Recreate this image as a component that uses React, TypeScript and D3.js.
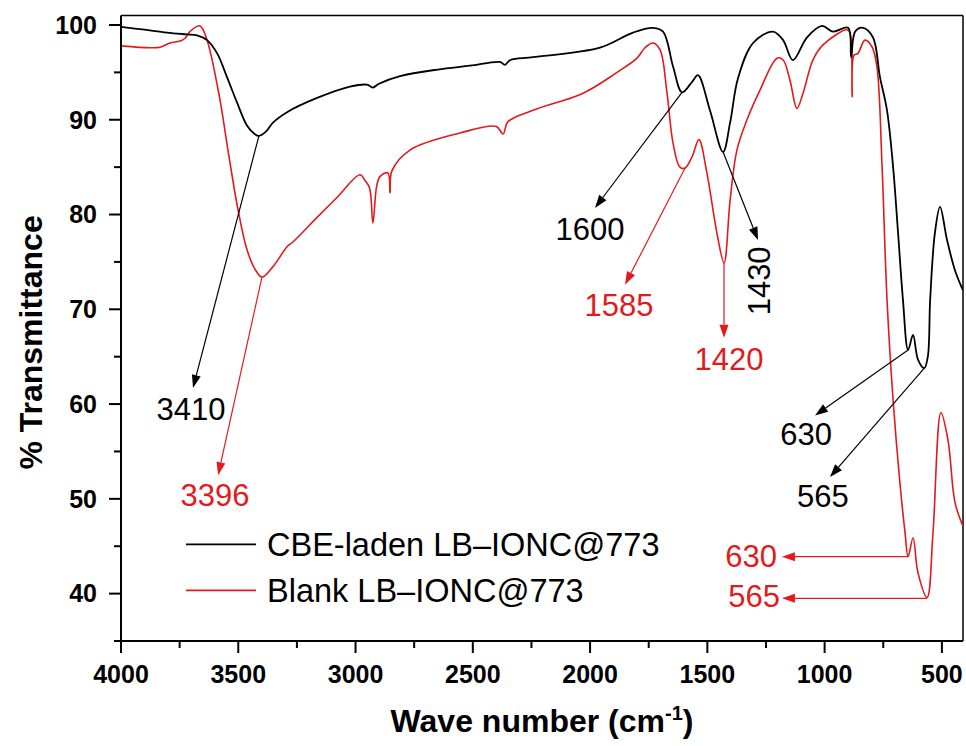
import * as d3 from 'd3';
import React from 'react';

// FTIR spectra, wavenumber (cm-1) vs % transmittance
const cbeWave = [4000, 3900, 3804, 3720, 3676, 3633, 3590, 3548, 3505, 3463, 3430, 3412, 3380, 3352, 3292, 3164, 3024, 2951, 2926, 2900, 2810, 2650, 2512, 2384, 2363, 2340, 2243, 1958, 1817, 1732, 1689, 1646, 1608, 1565, 1540, 1489, 1433, 1403, 1369, 1305, 1220, 1177, 1135, 1075, 1011, 964, 900, 887, 870, 836, 794, 764, 734, 708, 687, 666, 644, 623, 602, 575, 560, 550, 530, 508, 478, 444, 410];
const cbeT = [99.8, 99.5, 99.2, 99.0, 98.9, 98.4, 97.0, 94.5, 91.8, 89.4, 88.5, 88.3, 88.8, 89.7, 90.8, 92.3, 93.5, 93.7, 93.4, 93.8, 94.6, 95.3, 95.7, 96.1, 95.8, 96.3, 96.6, 97.6, 99.2, 99.7, 99.3, 95.6, 92.9, 94.0, 94.7, 91.0, 86.6, 89.7, 94.4, 98.1, 99.3, 98.4, 96.3, 98.7, 99.9, 99.3, 99.7, 96.6, 99.3, 99.7, 98.7, 94.5, 91.0, 85.0, 78.1, 71.0, 65.7, 67.3, 64.7, 63.8, 65.0, 71.0, 78.0, 80.8, 77.3, 74.1, 72.0];

const blankWave = [4000, 3876, 3834, 3791, 3748, 3727, 3706, 3663, 3633, 3578, 3544, 3501, 3463, 3430, 3399, 3352, 3292, 3267, 3164, 3079, 2981, 2960, 2940, 2926, 2910, 2896, 2862, 2853, 2845, 2768, 2555, 2400, 2371, 2350, 2243, 2030, 1885, 1800, 1766, 1732, 1702, 1672, 1646, 1617, 1595, 1565, 1536, 1502, 1459, 1429, 1403, 1374, 1331, 1276, 1203, 1177, 1148, 1118, 1092, 1050, 1007, 905, 892, 883, 875, 858, 828, 798, 777, 755, 734, 708, 679, 657, 644, 623, 602, 563, 538, 504, 474, 444, 410];
const blankT = [97.8, 97.6, 97.65, 98.1, 98.3, 98.6, 99.3, 99.9, 98.4, 92.1, 86.8, 80.5, 76.3, 74.3, 73.4, 74.5, 76.6, 77.1, 79.7, 81.8, 84.2, 83.6, 82.8, 79.1, 83.0, 84.0, 84.4, 82.3, 84.6, 86.8, 88.6, 89.3, 88.5, 89.8, 91.0, 92.8, 95.0, 96.5, 97.6, 98.1, 97.4, 92.8, 87.5, 85.0, 84.9, 86.1, 87.9, 84.4, 78.0, 74.9, 81.5, 86.8, 90.0, 93.1, 96.5, 96.3, 94.2, 91.2, 92.8, 96.3, 97.9, 99.5, 99.2, 92.4, 96.8, 97.0, 98.4, 97.7, 95.6, 85.0, 71.0, 60.4, 51.7, 46.4, 43.9, 45.9, 42.2, 39.6, 46.4, 59.1, 56.2, 49.6, 47.1];

const seriesNames = ['CBE-laden LB\u2013IONC@773', 'Blank LB\u2013IONC@773'];
const xTicks = [4000, 3500, 3000, 2500, 2000, 1500, 1000, 500];
const xMinor = [3750, 3250, 2750, 2250, 1750, 1250, 750];
const yTicks = [40, 50, 60, 70, 80, 90, 100];
const yMinor = [35, 45, 55, 65, 75, 85, 95];

const RED = '#e31a1c';

// peak annotations: from (peak), to (arrow tip), at (label), all in data units
const peaks = [
  { text: '3410', color: '#000', from: [3412, 88.3], to: [3693, 61.7], at: [3702, 58.3], anchor: 'middle' },
  { text: '3396', color: RED, from: [3399, 73.4], to: [3586, 52.5], at: [3599, 49.2], anchor: 'middle' },
  { text: '1600', color: '#000', from: [1608, 92.9], to: [1979, 80.7], at: [2000, 77.3], anchor: 'middle' },
  { text: '1585', color: RED, from: [1595, 84.9], to: [1851, 72.6], at: [1877, 69.3], anchor: 'middle' },
  { text: '1430', color: '#000', from: [1433, 86.6], to: [1284, 77.3], at: [1233, 73.0], anchor: 'middle', rotate: true },
  { text: '1420', color: RED, from: [1429, 74.9], to: [1429, 67.0], at: [1408, 63.6], anchor: 'middle' },
  { text: '630', color: '#000', from: [644, 65.7], to: [1041, 58.8], at: [1079, 55.7], anchor: 'middle' },
  { text: '565', color: '#000', from: [575, 63.8], to: [977, 52.3], at: [1007, 49.1], anchor: 'middle' },
  { text: '630', color: RED, from: [644, 43.9], to: [1182, 43.9], at: [1203, 42.8], anchor: 'end' },
  { text: '565', color: RED, from: [563, 39.5], to: [1182, 39.5], at: [1190, 38.6], anchor: 'end' },
];

const width = 966;
const height = 746;
const margin = { top: 15.5, right: 3, bottom: 105, left: 121 };
const innerWidth = width - margin.left - margin.right;
const innerHeight = height - margin.top - margin.bottom;
const font = "'Liberation Sans', Arial, sans-serif";

const Arrow = ({ x1, y1, x2, y2, color }) => {
  const len = Math.hypot(x2 - x1, y2 - y1);
  const ux = (x2 - x1) / len;
  const uy = (y2 - y1) / len;
  const head = 13;
  const half = 4.5;
  const bx = x2 - ux * head;
  const by = y2 - uy * head;
  const tri = `M${x2},${y2}L${bx - uy * half},${by + ux * half}L${bx + uy * half},${by - ux * half}Z`;
  return (
    <g>
      <line x1={x1} y1={y1} x2={bx} y2={by} stroke={color} strokeWidth={1.2} />
      <path d={tri} fill={color} />
    </g>
  );
};

const App = () => {
  const xScale = d3.scaleLinear().domain([4000, 410]).range([0, innerWidth]);
  const yScale = d3.scaleLinear().domain([35, 101]).range([innerHeight, 0]);

  const line = d3.line<[number, number]>()
    .x(d => xScale(d[0]))
    .y(d => yScale(d[1]))
    .curve(d3.curveCatmullRom.alpha(0.5));

  const cbe = cbeWave.map((w, i) => [w, cbeT[i]] as [number, number]);
  const blank = blankWave.map((w, i) => [w, blankT[i]] as [number, number]);

  return (
    <svg width={width} height={height} style={{ position: 'absolute', left: 0, top: 0, background: '#fff' }} fontFamily={font}>
      <g transform={`translate(${margin.left},${margin.top})`}>
        <defs>
          <clipPath id="plot">
            <rect x={0} y={0} width={innerWidth} height={innerHeight} />
          </clipPath>
        </defs>

        {/* frame */}
        <line x1={0} x2={innerWidth} y1={0} y2={0} stroke="#000" strokeWidth={1.5} />
        <line x1={innerWidth} x2={innerWidth} y1={0} y2={innerHeight} stroke="#000" strokeWidth={1.5} />

        <g clipPath="url(#plot)">
          <path d={line(blank)} fill="none" stroke={RED} strokeWidth={1.6} />
          <path d={line(cbe)} fill="none" stroke="#000" strokeWidth={1.8} />
        </g>

        {/* x axis */}
        <line x1={0} x2={innerWidth} y1={innerHeight} y2={innerHeight} stroke="#000" strokeWidth={2} />
        {xTicks.map(t => (
          <g key={t} transform={`translate(${xScale(t)},${innerHeight})`}>
            <line y1={0} y2={12} stroke="#000" strokeWidth={2} />
            <text y={42} textAnchor="middle" fontSize={25} fontWeight="bold">{t}</text>
          </g>
        ))}
        {xMinor.map(t => (
          <line key={t} x1={xScale(t)} x2={xScale(t)} y1={innerHeight} y2={innerHeight + 7} stroke="#000" strokeWidth={2} />
        ))}

        {/* y axis */}
        <line x1={0} x2={0} y1={0} y2={innerHeight} stroke="#000" strokeWidth={2} />
        {yTicks.map(t => (
          <g key={t} transform={`translate(0,${yScale(t)})`}>
            <line x1={-12} x2={0} stroke="#000" strokeWidth={2} />
            <text x={-24} dy="0.35em" textAnchor="end" fontSize={25} fontWeight="bold">{t}</text>
          </g>
        ))}
        {yMinor.map(t => (
          <line key={t} x1={-7} x2={0} y1={yScale(t)} y2={yScale(t)} stroke="#000" strokeWidth={2} />
        ))}

        {/* axis titles */}
        <text x={innerWidth / 2} y={innerHeight + 91} textAnchor="middle" fontSize={32} fontWeight="bold">
          Wave number (cm<tspan dy={-12} fontSize={20}>-1</tspan><tspan dy={12}>)</tspan>
        </text>
        <text transform={`translate(${-79},${yScale(66.5)}) rotate(-90)`} textAnchor="middle" fontSize={32} fontWeight="bold">
          % Transmittance
        </text>

        {/* peak annotations */}
        {peaks.map((p, i) => {
          const lx = xScale(p.at[0]);
          const ly = yScale(p.at[1]);
          return (
            <g key={i}>
              <Arrow x1={xScale(p.from[0])} y1={yScale(p.from[1])} x2={xScale(p.to[0])} y2={yScale(p.to[1])} color={p.color} />
              {p.rotate ? (
                <text transform={`translate(${lx},${ly}) rotate(-90)`} textAnchor="middle" fontSize={31} fill={p.color}>{p.text}</text>
              ) : (
                <text x={lx} y={ly} textAnchor={p.anchor} fontSize={31} fill={p.color}>{p.text}</text>
              )}
            </g>
          );
        })}

        {/* legend */}
        {seriesNames.map((name, i) => (
          <g key={name} transform={`translate(65,${yScale(45.2) + i * 46})`}>
            <line x1={0} x2={70} stroke={i === 0 ? '#000' : RED} strokeWidth={1.6} />
            <text x={81} dy="0.35em" fontSize={32.5}>{name}</text>
          </g>
        ))}
      </g>
    </svg>
  );
};

export default App;
